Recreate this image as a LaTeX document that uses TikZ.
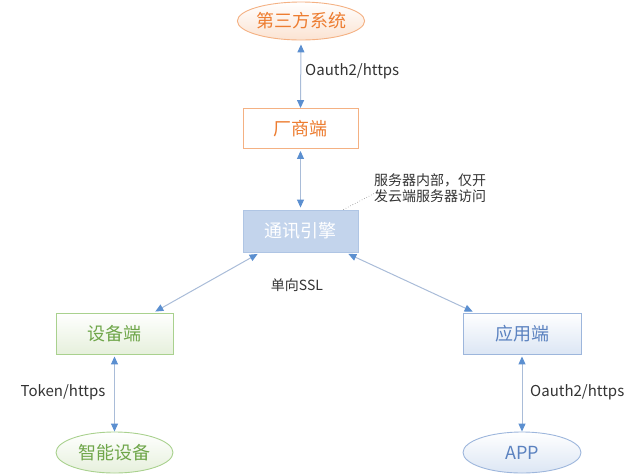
\documentclass[tikz,border=0pt]{standalone}
\usepackage{fontspec}
\setmainfont{Noto Sans CJK SC}
\usetikzlibrary{arrows.meta,shapes.geometric,calc}
\definecolor{orTxt}{HTML}{ED7D31}
\definecolor{orLine}{HTML}{F4B183}
\definecolor{orFill}{HTML}{FBE3D2}
\definecolor{grTxt}{HTML}{6FA64A}
\definecolor{grLine}{HTML}{A9D18E}
\definecolor{grFill}{HTML}{E6F0DC}
\definecolor{blTxt}{HTML}{5B82C0}
\definecolor{blLine}{HTML}{9DB6DC}
\definecolor{blFill}{HTML}{DCE6F4}
\definecolor{engFill}{HTML}{C3D4EC}
\definecolor{engLine}{HTML}{AFC5E4}
\definecolor{arrLine}{HTML}{A9BCD8}
\definecolor{arrHead}{HTML}{5B8FD0}
\definecolor{lblTxt}{HTML}{333333}
\tikzset{
  base/.style={inner sep=0pt, font=\fontsize{18}{21}\selectfont},
  orEll/.style={base, ellipse, draw=orLine, line width=0.9pt, top color=white, bottom color=orFill, text=orTxt, minimum width=117pt, minimum height=38pt},
  orBox/.style={base, rectangle, draw=orLine, line width=0.9pt, fill=white, text=orTxt, minimum width=115pt, minimum height=40pt},
  engBox/.style={base, rectangle, draw=engLine, line width=0.9pt, fill=engFill, text=white, minimum width=115pt, minimum height=42pt},
  grBox/.style={base, rectangle, draw=grLine, line width=0.9pt, top color=white, bottom color=grFill, text=grTxt, minimum width=117pt, minimum height=41pt},
  grEll/.style={base, ellipse, draw=grLine, line width=0.9pt, top color=white, bottom color=grFill, text=grTxt, minimum width=117pt, minimum height=41pt},
  blBox/.style={base, rectangle, draw=blLine, line width=0.9pt, top color=white, bottom color=blFill, text=blTxt, minimum width=118pt, minimum height=41pt},
  blEll/.style={base, ellipse, draw=blLine, line width=0.9pt, top color=white, bottom color=blFill, text=blTxt, minimum width=118pt, minimum height=41pt},
  lbl/.style={inner sep=0pt, text=lblTxt, font=\fontsize{14}{15.5}\selectfont},
  lblLat/.style={inner sep=0pt, text=lblTxt, font=\fontsize{15}{16}\selectfont},
  conn/.style={draw=arrLine, line width=1pt, arrows={Triangle[length=8pt,width=7pt,color=arrHead]-Triangle[length=8pt,width=7pt,color=arrHead]}},
}
\begin{document}
\begin{tikzpicture}[x=1pt,y=-1pt]
\useasboundingbox (0,0) rectangle (640,475);
\node[orEll] (sys) at (301,21) {第三方系统};
\node[orBox] (vendor) at (300.5,128.5) {厂商端};
\node[engBox] (engine) at (300.5,231) {通讯引擎};
\node[grBox] (dev) at (114.5,333.5) {设备端};
\node[grEll] (smart) at (114.5,452.5) {智能设备};
\node[blBox] (appe) at (522,333.5) {应用端};
\node[blEll] (app) at (522,452.5) {APP};

\node[lblLat, anchor=west] (l1) at (305,71) {Oauth2/https};
\node[lbl, align=left, anchor=west] (note) at (374,188) {服务器内部，仅开\\发云端服务器访问};
\node[lbl] (l2) at (297,285) {单向SSL};
\node[lblLat] (l3) at (63,392) {Token/https};
\node[lblLat, anchor=west] (l4) at (530,392) {Oauth2/https};

\draw[conn, shorten <=4pt] (sys.south) -- (vendor.north);
\draw[conn, shorten <=2pt, shorten >=2pt] (vendor.south) -- (engine.north);
\draw[conn] ($(engine.south west)!0.13!(engine.south east)+(0,1.5)$) -- ($(dev.north west)!0.846!(dev.north east)+(0,-1)$);
\draw[conn] ($(engine.south west)!0.913!(engine.south east)+(0,1.5)$) -- ($(appe.north west)!0.085!(appe.north east)+(0,-1)$);
\draw[conn, shorten <=2pt] (dev.south) -- (smart.north);
\draw[conn, shorten <=2pt] (appe.south) -- (app.north);
\draw[gray, dotted, line width=0.6pt] ($(engine.north west)!0.87!(engine.north east)$) -- ($(note.west)+(3,4)$);
\end{tikzpicture}
\end{document}
